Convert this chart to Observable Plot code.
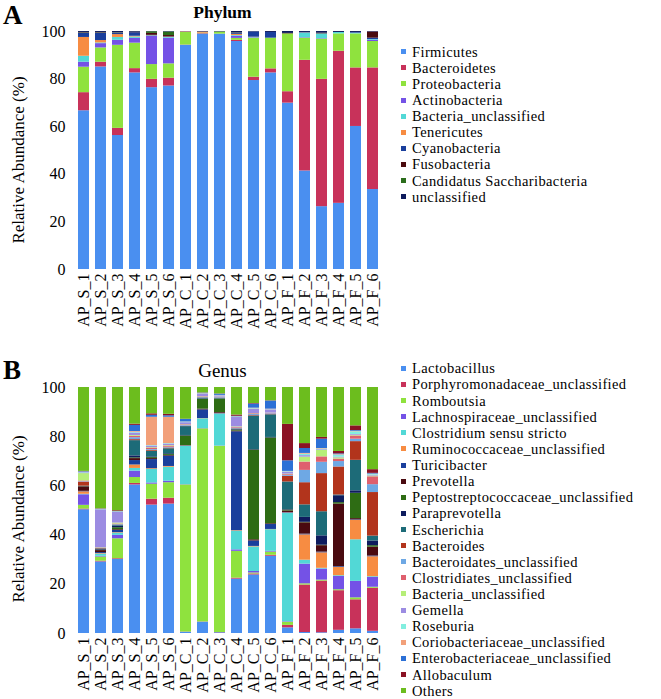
<!DOCTYPE html>
<html><head><meta charset="utf-8">
<script src="https://cdn.jsdelivr.net/npm/d3@7"></script>
<script src="https://cdn.jsdelivr.net/npm/@observablehq/plot@0.6"></script>
<style>
body{margin:0;background:#fff;color:#000;}
#root{position:relative;width:661px;height:699px;overflow:hidden;}
.abs{position:absolute;line-height:1;white-space:nowrap;}
.row{position:absolute;height:16px;line-height:16px;white-space:nowrap;}
.sw{position:absolute;width:5px;height:5px;}
</style>
</head><body><div id="root"></div>
<script>
const samples = ["AP_S_1","AP_S_2","AP_S_3","AP_S_4","AP_S_5","AP_S_6","AP_C_1","AP_C_2","AP_C_3","AP_C_4","AP_C_5","AP_C_6","AP_F_1","AP_F_2","AP_F_3","AP_F_4","AP_F_5","AP_F_6"];
const yTicks = [0,20,40,60,80,100];

const phyla = ["Firmicutes","Bacteroidetes","Proteobacteria","Actinobacteria","Bacteria_unclassified","Tenericutes","Cyanobacteria","Fusobacteria","Candidatus Saccharibacteria","unclassified"];
const phylumColors = ["#4a8ff0","#c8325a","#8fe23e","#7452e6","#52d8d6","#f78c42","#1a3f9c","#4a0a0e","#2b6d1c","#0e1a5c"];
// one row per sample, values in the order of `phyla`
const phylumBySample = [
  [66.7,7.6,10.7,2.1,2.5,7.9,1.8,0.2,0.1,0.4],
  [85.1,2.0,6.0,1.8,0.3,1.0,3.1,0.2,0.1,0.4],
  [56.3,3.0,34.9,2.1,1.2,1.2,0.6,0.1,0.1,0.5],
  [82.6,1.8,10.7,2.0,0.6,0.3,1.5,0.1,0.1,0.3],
  [76.4,3.5,6.2,11.8,0.2,0.1,0.2,0.8,0.7,0.1],
  [77.1,3.3,6.0,10.8,0.3,0.1,0.1,0.6,1.5,0.2],
  [94.2,0.1,5.3,0.1,0.0,0.2,0.0,0.0,0.0,0.1],
  [98.9,0.2,0.2,0.0,0.0,0.4,0.0,0.1,0.0,0.2],
  [98.9,0.0,0.9,0.0,0.0,0.0,0.0,0.0,0.0,0.2],
  [95.8,0.5,0.8,0.9,0.3,0.5,0.4,0.1,0.1,0.6],
  [79.4,1.4,16.4,0.2,0.1,0.1,2.2,0.0,0.0,0.2],
  [82.6,1.7,12.9,0.0,0.0,0.0,2.4,0.0,0.0,0.4],
  [69.9,4.8,24.3,0.0,0.0,0.0,0.0,0.2,0.0,0.8],
  [41.4,46.5,9.3,0.2,1.9,0.1,0.2,0.0,0.0,0.4],
  [26.4,53.5,16.9,0.2,2.0,0.0,0.0,0.3,0.0,0.7],
  [27.8,63.9,7.3,0.0,0.6,0.0,0.0,0.0,0.0,0.4],
  [60.1,24.6,14.3,0.0,0.3,0.0,0.3,0.0,0.0,0.4],
  [33.6,51.1,11.1,0.5,0.3,0.0,0.6,2.6,0.0,0.2]
];

const genera = ["Lactobacillus","Porphyromonadaceae_unclassified","Romboutsia","Lachnospiraceae_unclassified","Clostridium sensu stricto","Ruminococcaceae_unclassified","Turicibacter","Prevotella","Peptostreptococcaceae_unclassified","Paraprevotella","Escherichia","Bacteroides","Bacteroidates_unclassified","Clostridiates_unclassified","Bacteria_unclassified","Gemella","Roseburia","Coriobacteriaceae_unclassified","Enterobacteriaceae_unclassified","Allobaculum","Others"];
const genusColors = ["#4a8ff0","#c8325a","#8fe23e","#7452e6","#52d8d6","#f78c42","#1a3f9c","#4a0a10","#2e6c14","#0e1c5e","#1d6b78","#b2341c","#6ea8e4","#df606e","#b6ee78","#9c8ce2","#82eedf","#f2a07a","#2c70d6","#8a1224","#6cbd1e"];
// one row per sample, values in the order of `genera`
const genusBySample = [
  [50.3,0.3,1.5,4.3,0.2,1.0,0.2,1.8,0.1,0.1,0.1,1.6,0.2,0.3,3.0,0.3,0.2,0.1,0.2,0.1,34.1],
  [29.1,0.3,1.7,0.3,0.9,0.2,0.4,0.8,0.2,0.3,0.2,0.2,0.1,0.1,0.1,15.4,0.1,0.1,0.1,0.1,49.3],
  [30.1,0.3,8.1,1.4,0.9,0.2,0.9,0.3,0.8,0.6,0.3,0.2,0.2,0.2,0.4,4.3,0.2,0.1,0.1,0.3,50.1],
  [60.4,0.6,2.4,2.6,1.1,1.4,1.8,0.8,0.3,0.8,6.2,0.4,0.8,0.6,0.3,1.0,0.3,0.3,2.5,0.5,14.9],
  [52.2,2.4,6.1,0.5,5.5,0.3,3.7,0.4,0.4,0.3,2.3,0.4,0.3,0.6,0.2,0.6,0.2,11.5,0.8,0.6,10.7],
  [52.6,2.4,6.3,0.6,5.7,0.3,4.2,0.3,0.4,0.3,2.0,0.3,0.3,0.5,0.2,0.6,0.2,10.7,0.6,0.6,10.9],
  [0.5,0.1,59.8,0.1,15.6,0.1,0.1,0.1,3.9,0.2,3.6,0.1,0.3,0.3,0.1,0.8,0.2,0.1,1.0,0.1,12.9],
  [4.6,0.1,78.5,0.1,4.0,0.1,3.5,0.3,4.0,0.2,0.3,0.1,0.2,0.2,0.1,1.0,0.1,0.1,0.2,0.1,2.2],
  [0.3,0.1,75.7,0.1,13.0,0.1,0.2,0.3,5.5,0.1,0.2,0.1,0.2,0.1,0.1,0.5,0.1,0.1,0.5,0.1,2.6],
  [22.1,0.4,10.9,0.6,7.6,0.2,40.2,0.3,0.4,0.2,0.2,0.1,0.3,0.3,0.2,3.8,0.2,0.1,0.2,0.5,11.2],
  [23.8,0.4,0.4,0.6,10.0,0.2,2.2,0.5,36.5,0.2,13.6,0.2,0.4,0.3,0.1,1.8,0.2,0.2,1.7,0.2,6.5],
  [31.4,0.4,1.3,0.3,8.8,0.1,2.0,0.3,34.9,0.2,9.2,0.1,0.3,0.2,0.1,1.3,0.1,0.2,3.3,0.1,5.4],
  [2.3,1.0,1.3,0.2,44.0,0.2,0.2,0.6,0.4,0.2,11.2,2.3,0.4,0.3,0.2,0.8,0.2,0.1,4.3,14.8,15.0],
  [0.4,19.3,0.5,8.0,1.6,10.3,0.3,4.6,0.2,2.0,5.1,9.0,5.0,3.4,2.0,0.6,0.6,0.3,2.0,2.0,22.8],
  [0.3,21.0,0.4,4.5,0.3,6.3,0.3,2.6,0.2,3.8,9.8,15.5,4.6,2.2,2.6,0.3,0.3,0.2,3.8,0.7,20.3],
  [1.3,16.1,0.4,5.4,0.3,3.4,0.3,25.4,0.6,2.8,0.3,11.4,2.2,1.0,0.5,0.3,0.8,0.2,0.3,1.0,26.0],
  [1.9,11.8,0.8,6.7,16.9,7.9,0.2,0.5,10.3,1.0,12.4,7.6,1.0,1.3,0.3,0.3,1.1,0.2,0.3,1.9,15.6],
  [0.9,17.5,0.4,4.0,0.3,8.1,0.3,3.6,0.6,1.9,2.0,17.7,3.2,3.2,0.3,0.3,0.3,0.2,0.3,1.5,33.4]
];

// ---- font selection: prefer a Times-like serif, otherwise a sans
function hasFont(name) {
  const c = document.createElement("canvas").getContext("2d");
  const t = "mmmmmmmmmmlliWQ@0123456789";
  for (const base of ["monospace", "sans-serif", "serif"]) {
    c.font = `20px ${base}`;
    const w0 = c.measureText(t).width;
    c.font = `20px "${name}", ${base}`;
    if (Math.abs(c.measureText(t).width - w0) > 0.01) return true;
  }
  return false;
}
const serifName = ["Liberation Serif", "Tinos", "Times New Roman", "DejaVu Serif", "Noto Serif"].find(hasFont);
const sansName = ["Liberation Sans", "Arimo", "DejaVu Sans", "Noto Sans"].find(hasFont) || "sans-serif";
const isSerif = !!serifName;
const FONT = isSerif ? `'${serifName}', serif` : `'${sansName}', sans-serif`;
const S = isSerif
  ? {tick: 16, letter: 27, phylum: 17.5, genus: 19, ylab: 17, legend: 14.5, spacing: 0.4}
  : {tick: 15, letter: 25, phylum: 16.5, genus: 17, ylab: 15.5, legend: 14, spacing: 0.8};

const root = document.getElementById("root");
root.style.fontFamily = FONT;

function tidy(rows, cats) {
  const out = [];
  samples.forEach((s, i) => rows[i].forEach((v, j) => out.push({sample: s, cat: cats[j], value: v})));
  return out;
}

function chart(rows, cats, colors, o) {
  const svg = Plot.plot({
    width: 661, height: o.height,
    marginLeft: 67, marginRight: 272, marginTop: o.top, marginBottom: o.bottom,
    style: {fontFamily: FONT, fontSize: S.tick + "px", color: "#000", background: "transparent"},
    x: {domain: samples, padding: 0.355, label: null, tickSize: 0, tickRotate: -90, tickPadding: 4},
    y: {domain: [0, 100], ticks: yTicks, tickSize: 0, tickPadding: 2, label: null},
    color: {domain: cats, range: colors},
    marks: [
      Plot.barY(tidy(rows, cats), {x: "sample", y: "value", fill: "cat"})
    ]
  });
  svg.style.position = "absolute";
  svg.style.left = "0px";
  svg.style.top = o.offset + "px";
  root.appendChild(svg);
}

function text(str, x, baseline, fs, extra = {}) {
  const d = document.createElement("div");
  d.className = "abs";
  d.textContent = str;
  d.style.fontSize = fs + "px";
  d.style.top = (baseline - 0.84 * fs) + "px";
  d.style.left = x + "px";
  if (extra.center) d.style.transform = "translateX(-50%)";
  if (extra.bold) d.style.fontWeight = "bold";
  root.appendChild(d);
  return d;
}

function yLabel(cx, cy) {
  const d = document.createElement("div");
  d.className = "abs";
  d.textContent = "Relative Abundance (%)";
  d.style.fontSize = S.ylab + "px";
  d.style.left = cx + "px";
  d.style.top = cy + "px";
  d.style.transform = "translate(-50%,-50%) rotate(-90deg)";
  root.appendChild(d);
}

function legend(cats, colors, firstCenter, step) {
  cats.forEach((c, i) => {
    const cy = firstCenter + i * step;
    const sw = document.createElement("div");
    sw.className = "sw";
    sw.style.background = colors[i];
    sw.style.left = "400.5px";
    sw.style.top = (cy - 2.5) + "px";
    root.appendChild(sw);
    const r = document.createElement("div");
    r.className = "row";
    r.textContent = c;
    r.style.fontSize = S.legend + "px";
    r.style.letterSpacing = S.spacing + "px";
    r.style.left = "412px";
    r.style.top = (cy - 8) + "px";
    root.appendChild(r);
  });
}

// Panel A
chart(phylumBySample, phyla, phylumColors, {height: 335, top: 31, bottom: 66, offset: 0});
text("A", 3, 25, S.letter, {bold: true});
text("Phylum", 222.5, 18.5, S.phylum, {center: true, bold: true});
yLabel(17.5, 160);
legend(phyla, phylumColors, 51.7, 16.1);

// Panel B
chart(genusBySample, genera, genusColors, {height: 359, top: 47, bottom: 66, offset: 340});
text("B", 3, 380, S.letter, {bold: true});
text("Genus", 222.5, 376.5, S.genus, {center: true});
yLabel(17.5, 519);
legend(genera, genusColors, 368.3, 16.12);
</script>
</body></html>
